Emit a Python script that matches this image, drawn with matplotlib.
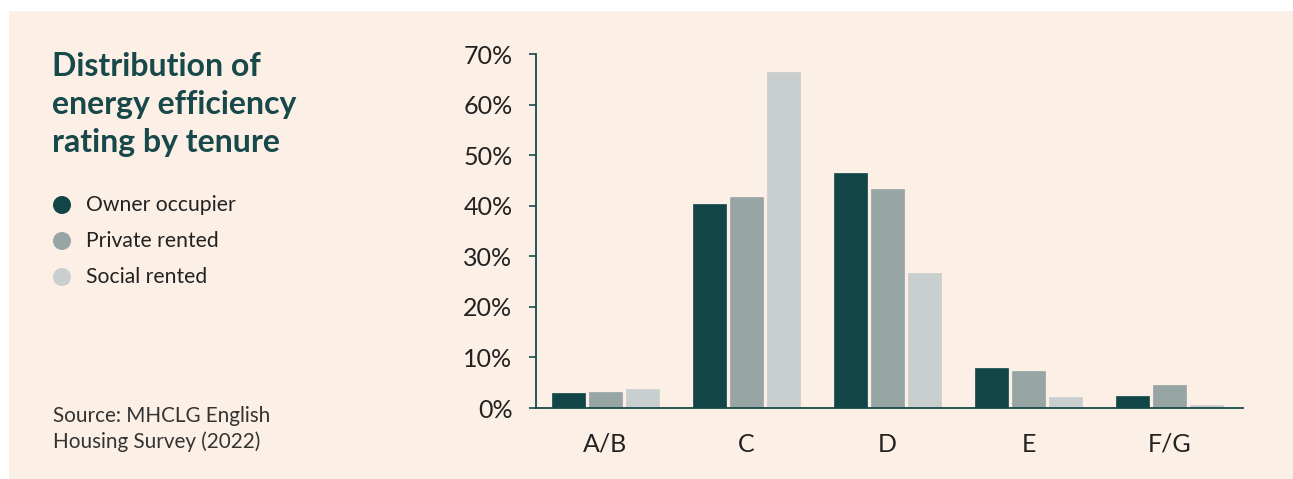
import numpy as np
import matplotlib.pyplot as plt
from matplotlib.patches import Rectangle, Ellipse

# data
ratings = ["A/B", "C", "D", "E", "F/G"]
owner = [3.0, 40.3, 46.5, 7.9, 2.4]
private = [3.2, 41.8, 43.3, 7.3, 4.6]
social = [3.8, 66.5, 26.8, 2.2, 0.6]
series_names = ["Owner occupier", "Private rented", "Social rented"]
colors = ["#124547", "#98a5a5", "#c9cecf"]
yticks = [0, 10, 20, 30, 40, 50, 60, 70]

bg = "#fcefe6"
teal = "#17484a"
txt = "#222222"
plt.rcParams['font.family'] = ['Lato', 'DejaVu Sans']

W, H = 1293, 479
fig = plt.figure(figsize=(W / 100, H / 100), dpi=100)
fig.patch.set_facecolor("white")
fig.patches.append(Rectangle((9 / W, 0), 1 - 9 / W, 1 - 11 / H, transform=fig.transFigure,
                             facecolor=bg, edgecolor="none", zorder=-10))

ax = fig.add_axes([536 / W, (H - 408) / H, (1243 - 536) / W, (408 - 54.3) / H])
ax.set_facecolor(bg)

x = np.arange(len(ratings))
w = 0.235
step = 0.262
for i, (vals, c) in enumerate(zip([owner, private, social], colors)):
    ax.bar(x + (i - 1) * step, vals, width=w, color=c, edgecolor=c, linewidth=0.5)

ax.set_xlim(-0.49, 4.52)
ax.set_ylim(0, 70)
ax.set_yticks(yticks)
ax.set_yticklabels([f"{v}%" for v in yticks])
ax.set_xticks(x)
ax.set_xticklabels(ratings)
ax.tick_params(axis="y", length=5, width=1.2, color=teal, labelsize=18, labelcolor=txt, pad=12)
ax.tick_params(axis="x", length=0, labelsize=18, labelcolor=txt, pad=18)
for s in ["top", "right"]:
    ax.spines[s].set_visible(False)
for s in ["left", "bottom"]:
    ax.spines[s].set_color(teal)
    ax.spines[s].set_linewidth(1.3)

# title block
fig.text(52 / W, 1 - 52 / H, "Distribution of\nenergy efficiency\nrating by tenure",
         fontsize=23, fontweight="bold", color=teal, va="top", ha="left", linespacing=1.38)
# legend drawn by hand: circles + labels
for i, (name, c) in enumerate(zip(series_names, colors)):
    yy = 205 + 36 * i
    fig.patches.append(Ellipse((62 / W, 1 - yy / H), 18 / W, 18 / H, transform=fig.transFigure,
                               facecolor=c, edgecolor="none"))
    fig.text(86 / W, 1 - yy / H, name, fontsize=15.2, color=txt, va="center", ha="left")
fig.text(53 / W, 1 - 429 / H, "Source: MHCLG English\nHousing Survey (2022)",
         fontsize=14.9, color="#333333", va="center", ha="left", linespacing=1.3)

fig.savefig("out.png", dpi=100, facecolor=fig.get_facecolor())
